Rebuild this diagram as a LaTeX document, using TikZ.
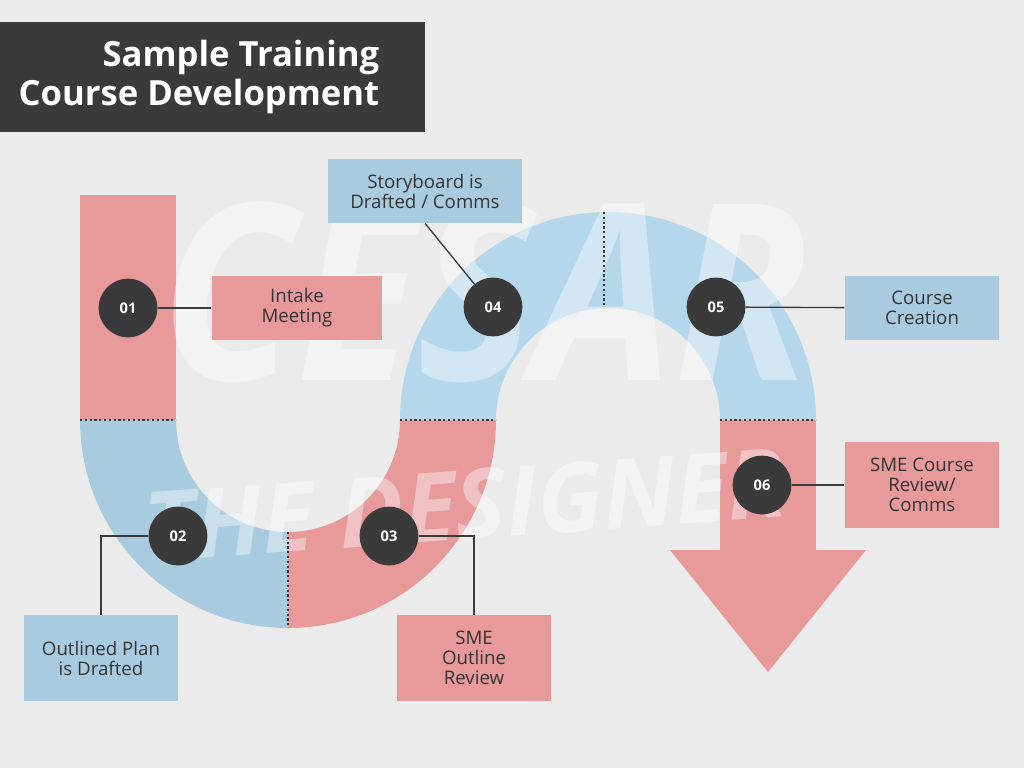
\documentclass[tikz,border=0pt]{standalone}
\usepackage{fontspec}
\setmainfont{Open Sans}
\usetikzlibrary{positioning}
\definecolor{bgc}{HTML}{EBEBEB}
\definecolor{darkc}{HTML}{3A3A3A}
\definecolor{pinkc}{HTML}{E89A9B}
\definecolor{bluec}{HTML}{A8CBE0}
\definecolor{lbluec}{HTML}{B4D7EB}
\definecolor{txtc}{HTML}{333333}
\tikzset{
  stepnum/.style={circle, fill=darkc, minimum size=44, inner sep=0pt, text=white, font=\fontsize{11}{11}\selectfont\bfseries},
  labelbox/.style={minimum width=116, minimum height=48, inner sep=2pt, align=center, text=txtc, font=\fontsize{14}{15}\selectfont},
  leader/.style={draw=darkc, line width=1pt},
  seam/.style={draw=darkc, line width=1.6pt, dotted}
}
\begin{document}
\begin{tikzpicture}[x=0.75pt, y=-0.75pt]
\fill[bgc] (0,0) rectangle (1024,768);
\useasboundingbox (0,0) rectangle (1024,768);
% title
\fill[darkc] (0,22) rectangle (425,132);
\node[anchor=east, align=right, text=white, font=\fontsize{26}{29}\selectfont\bfseries] (title) at (384,77) {Sample Training\\Course Development};
% band
\fill[pinkc] (80,195) rectangle (176,420);
\fill[bluec] (80,420) arc[start angle=180, end angle=90, radius=208] -- (288,532) arc[start angle=90, end angle=180, radius=112] -- cycle;
\fill[pinkc] (288,628) arc[start angle=90, end angle=0, radius=208] -- (400,420) arc[start angle=0, end angle=90, radius=112] -- cycle;
\fill[lbluec] (400,420) arc[start angle=180, end angle=270, radius=208] -- (608,308) arc[start angle=270, end angle=180, radius=112] -- cycle;
\fill[lbluec] (608,212) arc[start angle=270, end angle=360, radius=208] -- (720,420) arc[start angle=0, end angle=-90, radius=112] -- cycle;
\fill[pinkc] (720,420) rectangle (816,552);
\fill[pinkc] (670,550) -- (866,550) -- (768,672) -- cycle;
% watermark
\node[text=white, opacity=0.4, font=\fontsize{185}{185}\selectfont\bfseries\itshape, xscale=0.9] (wmtop) at (485,292) {CESAR};
\node[text=white, opacity=0.4, font=\fontsize{72}{72}\selectfont\bfseries\itshape, rotate=4] (wmbot) at (465,505) {THE DESIGNER};
% seams
\draw[seam] (80,420) -- (176,420);
\draw[seam] (400,420) -- (496,420);
\draw[seam] (720,420) -- (816,420);
\draw[seam] (288,532) -- (288,628);
\draw[seam] (604,212) -- (604,308);
% boxes
\node[labelbox, fill=pinkc, minimum width=128] (intake) at (297,308) {Intake\\Meeting};
\node[labelbox, fill=bluec, minimum width=145] (story) at (425,191) {Storyboard is\\Drafted / Comms};
\node[labelbox, fill=bluec] (creation) at (922,308) {Course\\Creation};
\node[labelbox, fill=pinkc, minimum height=64] (review) at (922,485) {SME Course\\Review/\\Comms};
\node[labelbox, fill=bluec, minimum height=64] (plan) at (101,658) {Outlined Plan\\is Drafted};
\node[labelbox, fill=pinkc, minimum height=64] (outline) at (474,658) {SME\\Outline\\Review};
% numbers
\node[stepnum] (s1) at (128,308) {01};
\node[stepnum] (s2) at (178,536) {02};
\node[stepnum] (s3) at (389,536) {03};
\node[stepnum] (s4) at (493,307) {04};
\node[stepnum] (s5) at (716,307) {05};
\node[stepnum] (s6) at (762,485) {06};
% leaders
\draw[leader] (s1) -- (intake);
\draw[leader] (s4) -- (story.south);
\draw[leader] (s5) -- (creation);
\draw[leader] (s6) -- (review);
\draw[leader] (s2) -| (plan.north);
\draw[leader] (s3) -| (outline.north);
\end{tikzpicture}
\end{document}
